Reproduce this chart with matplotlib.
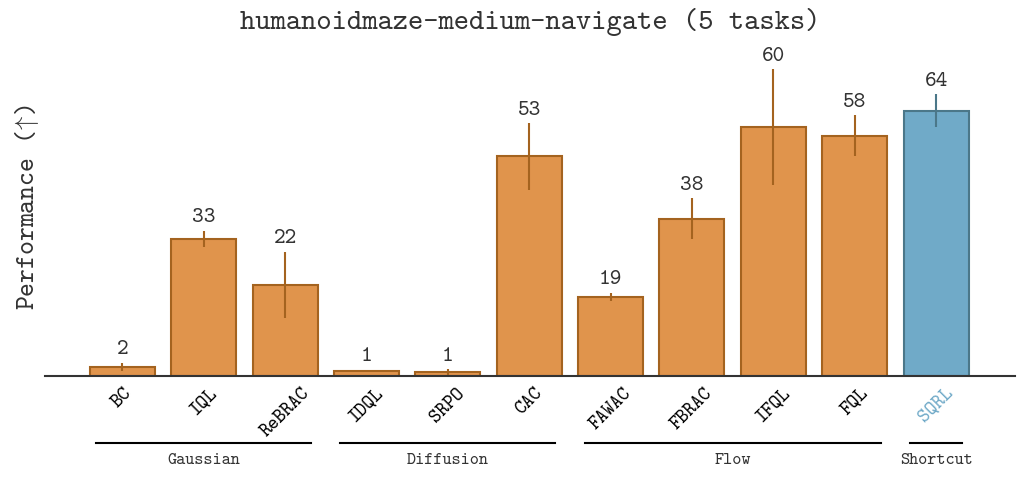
import matplotlib
matplotlib.use('Agg')
import matplotlib.pyplot as plt
import matplotlib.transforms as mtransforms
import numpy as np

methods = ['BC', 'IQL', 'ReBRAC', 'IDQL', 'SRPO', 'CAC', 'FAWAC', 'FBRAC', 'IFQL', 'FQL', 'SQRL']
means = [2.2, 33.1, 22.0, 1.2, 1.0, 53.0, 19.1, 38.0, 60.0, 58.0, 64.0]
stds = [1.0, 2.0, 8.0, 0.3, 0.7, 8.1, 1.0, 5.0, 14.0, 5.0, 4.0]
value_labels = ['2', '33', '22', '1', '1', '53', '19', '38', '60', '58', '64']
groups = ['Gaussian', 'Diffusion', 'Flow', 'Shortcut']
group_sizes = [3, 3, 4, 1]

FONT = ['cmtt10', 'DejaVu Sans Mono']
plt.rcParams['font.family'] = FONT
plt.rcParams['mathtext.fontset'] = 'cm'
plt.rcParams['axes.unicode_minus'] = False

orange = '#E0944C'
orange_edge = '#A4631F'
blue = '#70AAC8'
blue_edge = '#4B7789'
text_col = '#333333'

fig = plt.figure(figsize=(10.24, 4.8), dpi=100)
ax = fig.add_axes([45/1024, 1 - 376/480, 970/1024, 326/480])

x = np.arange(len(methods))
fills = [blue if m == 'SQRL' else orange for m in methods]
edges = [blue_edge if m == 'SQRL' else orange_edge for m in methods]

ax.bar(x, means, width=0.8, color=fills, edgecolor=edges, linewidth=1.5, zorder=2)
for xi, m, s, ec in zip(x, means, stds, edges):
    ax.errorbar(xi, m, yerr=s, fmt='none', ecolor=ec, elinewidth=1.5, capsize=0, zorder=3)

for xi, m, s, lab in zip(x, means, stds, value_labels):
    ax.annotate(lab, xy=(xi, m + s), xytext=(0, 6), textcoords='offset points',
                ha='center', va='baseline', fontsize=16, color=text_col)

ax.set_xlim(-0.95, len(methods) - 1 + 0.97)
ax.set_ylim(0, 78.7)
for sp in ['top', 'right', 'left']:
    ax.spines[sp].set_visible(False)
ax.spines['bottom'].set_color(text_col)
ax.spines['bottom'].set_linewidth(1.5)
ax.set_yticks([])
ax.set_xticks(x)
ax.set_xticklabels(methods, rotation=45, ha='center', va='top', fontsize=14)
ax.tick_params(axis='x', length=0, pad=6)
for tl, m in zip(ax.get_xticklabels(), methods):
    tl.set_color(blue if m == 'SQRL' else 'black')

ax.set_ylabel(r'Performance ($\!\uparrow\!$)', fontsize=19, color=text_col)
ax.yaxis.set_label_coords(-0.004, 0.52)
ax.set_title('humanoidmaze-medium-navigate (5 tasks)', fontsize=21, color=text_col, pad=15)

trans = mtransforms.blended_transform_factory(ax.transData, fig.transFigure)
start = 0
for g, n in zip(groups, group_sizes):
    a = start - 0.32
    b = start + n - 1 + 0.32
    ax.plot([a, b], [1 - 443/480] * 2, transform=trans, color='black', lw=1.5, clip_on=False)
    ax.text((a + b) / 2, 1 - 461/480, g, transform=trans, ha='center', va='center',
            fontsize=12.5, color=text_col)
    start += n

fig.savefig('out.png', dpi=100)
